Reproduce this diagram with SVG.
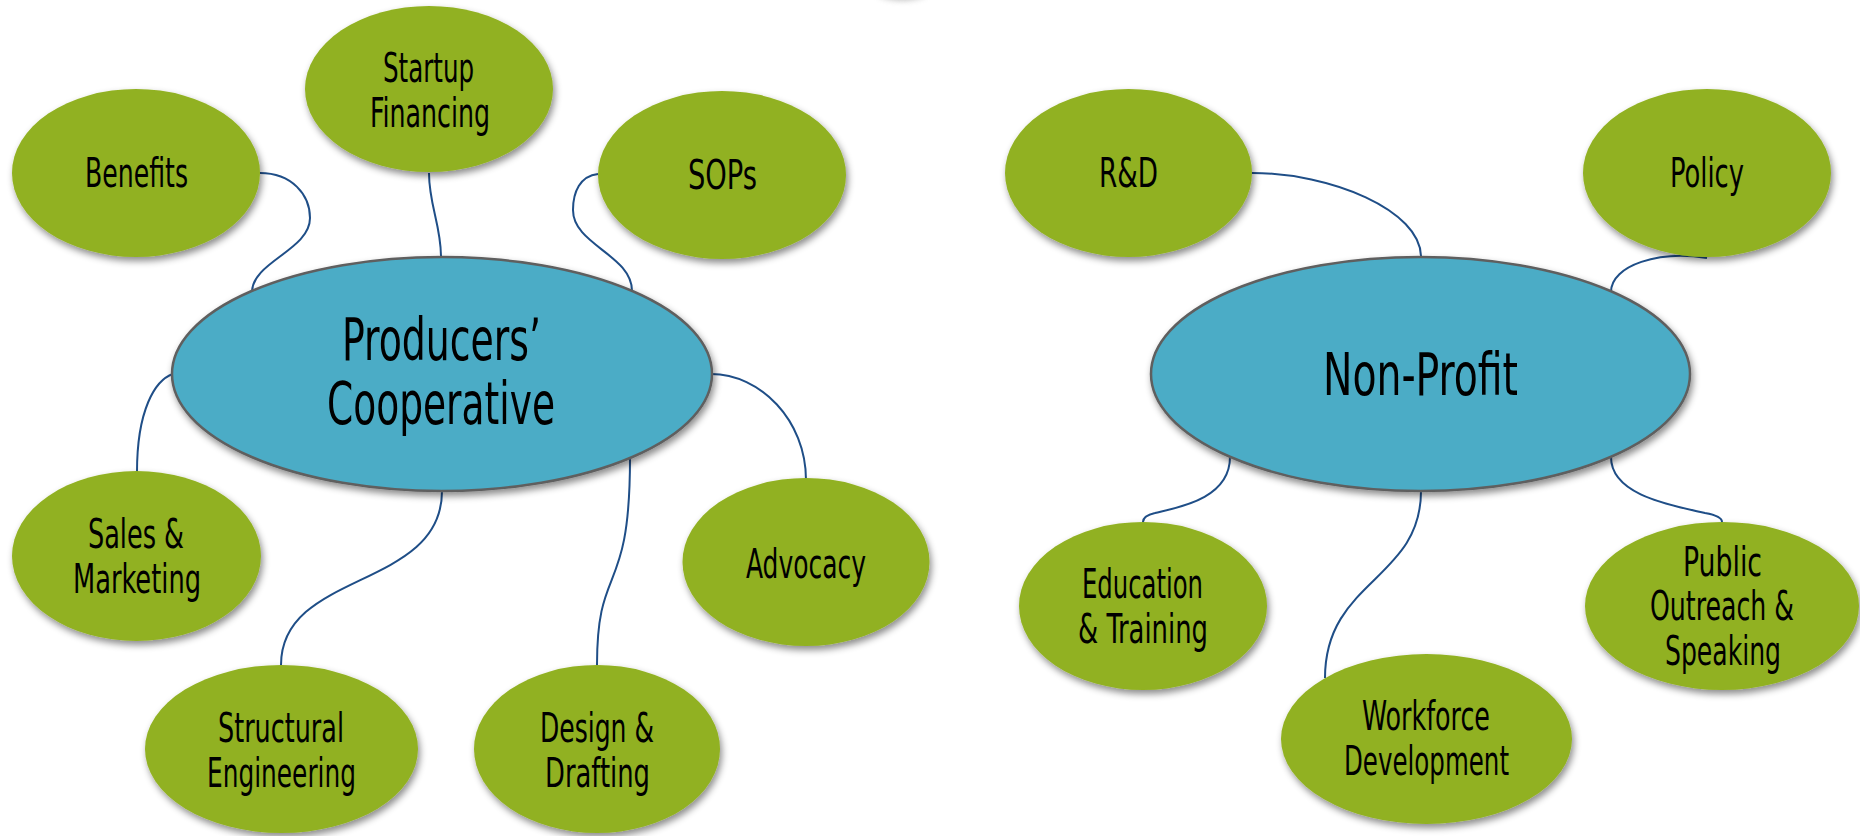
<svg xmlns="http://www.w3.org/2000/svg" width="1860" height="836" viewBox="0 0 1860 836">
<defs>
<filter id="sh" x="-20%" y="-20%" width="140%" height="150%">
<feDropShadow dx="2" dy="4" stdDeviation="3.5" flood-color="#000" flood-opacity="0.45"/>
</filter>
<filter id="blur" x="-50%" y="-50%" width="200%" height="200%">
<feGaussianBlur stdDeviation="3"/>
</filter>
</defs>
<style>
.leaf{fill:#91B122;filter:url(#sh)}
.hub{fill:#4BACC6;stroke:#5F5F5F;stroke-width:2.5;filter:url(#sh)}
.t{font-family:"DejaVu Sans Condensed","DejaVu Sans",sans-serif;font-stretch:condensed;font-size:40px;fill:#000;text-anchor:middle}
.tb{font-size:58px}
.c{fill:none;stroke:#1F4E87;stroke-width:2}
</style>
<rect width="1860" height="836" fill="#fff"/>
<ellipse cx="902" cy="-12" rx="28" ry="12" fill="#888" opacity="0.6" filter="url(#blur)"/>
<g id="connectors">
<path class="c" d="M260,173 C292,173 310,195 310,218 C310,250 252,262 252,292"/>
<path class="c" d="M429,173 C429,205 441,225 441,257"/>
<path class="c" d="M598,174 C580,176 573,192 573,210 C573,245 632,255 632,291"/>
<path class="c" d="M173,374 C155,380 137,410 137,472"/>
<path class="c" d="M711,374 C760,374 806,420 806,480"/>
<path class="c" d="M442,491 C442,590 281,570 281,665"/>
<path class="c" d="M630,458 C630,600 597,560 597,665"/>
<path class="c" d="M1252,173 C1330,173 1421,210 1421,257"/>
<path class="c" d="M1707,258 C1660,250 1611,265 1611,292"/>
<path class="c" d="M1230,457 C1230,500 1175,508 1155,513 C1146,515 1143,518 1143,522"/>
<path class="c" d="M1421,491 C1421,580 1325,580 1325,678"/>
<path class="c" d="M1611,457 C1611,495 1670,505 1705,513 C1716,515 1722,518 1722,522"/>
</g>
<g id="producers-cooperative">
<ellipse class="hub" cx="442" cy="374" rx="270" ry="117"/>
<text class="t tb" x="441.5" y="360" textLength="199" lengthAdjust="spacingAndGlyphs">Producers’</text>
<text class="t tb" x="441" y="424" textLength="228" lengthAdjust="spacingAndGlyphs">Cooperative</text>
</g>
<g id="benefits">
<ellipse class="leaf" cx="136" cy="173" rx="124" ry="84"/>
<text class="t" x="136.5" y="187" textLength="103" lengthAdjust="spacingAndGlyphs">Benefits</text>
</g>
<g id="startup-financing">
<ellipse class="leaf" cx="429" cy="89" rx="124" ry="83"/>
<text class="t" x="428.5" y="82" textLength="91" lengthAdjust="spacingAndGlyphs">Startup</text>
<text class="t" x="430" y="127" textLength="120" lengthAdjust="spacingAndGlyphs">Financing</text>
</g>
<g id="sops">
<ellipse class="leaf" cx="722" cy="175" rx="124" ry="84"/>
<text class="t" x="722.5" y="189" textLength="69" lengthAdjust="spacingAndGlyphs">SOPs</text>
</g>
<g id="sales-marketing">
<ellipse class="leaf" cx="136.5" cy="556" rx="124.5" ry="85"/>
<text class="t" x="136" y="548" textLength="96" lengthAdjust="spacingAndGlyphs">Sales &amp;</text>
<text class="t" x="137" y="593" textLength="128" lengthAdjust="spacingAndGlyphs">Marketing</text>
</g>
<g id="structural-engineering">
<ellipse class="leaf" cx="281.5" cy="749" rx="136.5" ry="84"/>
<text class="t" x="281" y="742" textLength="126" lengthAdjust="spacingAndGlyphs">Structural</text>
<text class="t" x="281.5" y="787" textLength="149" lengthAdjust="spacingAndGlyphs">Engineering</text>
</g>
<g id="design-drafting">
<ellipse class="leaf" cx="597" cy="749" rx="123" ry="84"/>
<text class="t" x="597" y="742" textLength="114" lengthAdjust="spacingAndGlyphs">Design &amp;</text>
<text class="t" x="597.5" y="787" textLength="105" lengthAdjust="spacingAndGlyphs">Drafting</text>
</g>
<g id="advocacy">
<ellipse class="leaf" cx="806" cy="562" rx="123.5" ry="84"/>
<text class="t" x="806" y="578" textLength="120" lengthAdjust="spacingAndGlyphs">Advocacy</text>
</g>
<g id="non-profit">
<ellipse class="hub" cx="1420.5" cy="374" rx="269.5" ry="117"/>
<text class="t tb" x="1420.5" y="395" textLength="195" lengthAdjust="spacingAndGlyphs">Non-Profit</text>
</g>
<g id="rd">
<ellipse class="leaf" cx="1128.5" cy="173" rx="123.5" ry="84"/>
<text class="t" x="1128.5" y="187" textLength="59" lengthAdjust="spacingAndGlyphs">R&amp;D</text>
</g>
<g id="policy">
<ellipse class="leaf" cx="1707" cy="173" rx="124" ry="84"/>
<text class="t" x="1707" y="187" textLength="74" lengthAdjust="spacingAndGlyphs">Policy</text>
</g>
<g id="education-training">
<ellipse class="leaf" cx="1143" cy="606" rx="124" ry="84"/>
<text class="t" x="1142.5" y="598" textLength="121" lengthAdjust="spacingAndGlyphs">Education</text>
<text class="t" x="1143" y="643" textLength="130" lengthAdjust="spacingAndGlyphs">&amp; Training</text>
</g>
<g id="workforce-development">
<ellipse class="leaf" cx="1426.5" cy="739" rx="145.5" ry="85"/>
<text class="t" x="1426" y="730" textLength="128" lengthAdjust="spacingAndGlyphs">Workforce</text>
<text class="t" x="1426.5" y="775" textLength="165" lengthAdjust="spacingAndGlyphs">Development</text>
</g>
<g id="public-outreach-speaking">
<ellipse class="leaf" cx="1722" cy="606" rx="137" ry="84"/>
<text class="t" x="1722.5" y="576" textLength="79" lengthAdjust="spacingAndGlyphs">Public</text>
<text class="t" x="1722" y="620" textLength="144" lengthAdjust="spacingAndGlyphs">Outreach &amp;</text>
<text class="t" x="1723" y="665" textLength="116" lengthAdjust="spacingAndGlyphs">Speaking</text>
</g>
</svg>
